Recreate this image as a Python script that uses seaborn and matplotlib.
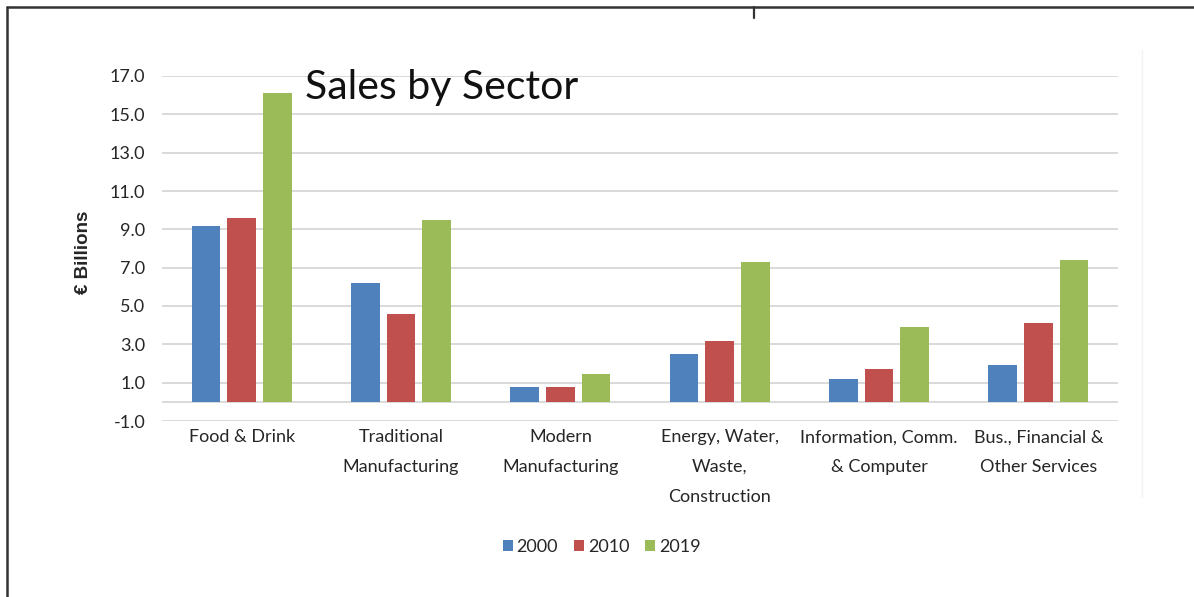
import matplotlib
matplotlib.use("Agg")
import matplotlib.pyplot as plt
from matplotlib.lines import Line2D
from matplotlib.patches import Patch
import seaborn as sns
import pandas as pd

# ---- data ----
sectors = ["Food & Drink", "Traditional\nManufacturing", "Modern\nManufacturing",
           "Energy, Water,\nWaste,\nConstruction", "Information, Comm.\n& Computer",
           "Bus., Financial &\nOther Services"]
years = ["2000", "2010", "2019"]
sales_2000 = [9.2, 6.2, 0.8, 2.5, 1.2, 1.9]
sales_2010 = [9.6, 4.6, 0.8, 3.2, 1.7, 4.1]
sales_2019 = [16.1, 9.5, 1.45, 7.3, 3.9, 7.4]
yticks = [-1.0, 1.0, 3.0, 5.0, 7.0, 9.0, 11.0, 13.0, 15.0, 17.0]
colors = ["#4F81BD", "#C0504D", "#9BBB59"]

rows = []
for yr, vals in zip(years, [sales_2000, sales_2010, sales_2019]):
    for s, v in zip(sectors, vals):
        rows.append({"Sector": s, "Year": yr, "Sales": v})
df = pd.DataFrame(rows)

sns.set_theme(style="white")
plt.rcParams["font.family"] = ["Lato", "DejaVu Sans"]

fig = plt.figure(figsize=(11.94, 5.97), dpi=100)
ax = fig.add_axes([162/1194, 1-421/597, (1118-162)/1194, (421-76)/597])

sns.barplot(data=df, x="Sector", y="Sales", hue="Year", order=sectors,
            hue_order=years, palette=colors, width=0.672, gap=0.2,
            linewidth=0, saturation=1, errorbar=None, ax=ax, legend=False, zorder=3)

ax.set_xlim(-0.5, len(sectors) - 0.5)
ax.set_ylim(-1, 17)
ax.set_yticks(yticks)
ax.set_yticklabels([f"{t:.1f}" for t in yticks], fontsize=13, color="#262626")
ax.yaxis.grid(True, color="#d9d9d9", linewidth=1.4, zorder=0)
ax.axhline(0, color="#d9d9d9", linewidth=1.4, zorder=1)
ax.set_axisbelow(True)
for sp in ax.spines.values():
    sp.set_visible(False)
ax.tick_params(axis="y", length=0, pad=12)
ax.tick_params(axis="x", length=0, pad=6)
for lbl in ax.get_xticklabels():
    lbl.set_fontsize(13)
    lbl.set_color("#262626")
    lbl.set_linespacing(2.05)
    lbl.set_va("top")
ax.set_xlabel("")
ax.set_ylabel("€ Billions", fontsize=13.5, fontweight="bold",
              family=["Liberation Sans", "DejaVu Sans"], color="#262626")
ax.yaxis.set_label_coords(-0.073, 0.49)

fig.text(305/1194, 1-88/597, "Sales by Sector", fontsize=29.5, color="#111111",
         ha="left", va="center")

handles = [Patch(facecolor=c, edgecolor="none") for c in colors]
fig.legend(handles, years, loc="center", bbox_to_anchor=(0.504, 1-547/597),
           ncol=3, frameon=False, fontsize=13, handlelength=0.55, handleheight=0.55,
           handletextpad=0.2, columnspacing=0.9)

# frame lines of the screenshot
fig.add_artist(Line2D([7/1194, 7/1194], [0, 1-7/597], color="#333333", linewidth=1.8))
fig.add_artist(Line2D([7/1194, 1], [1-7/597, 1-7/597], color="#333333", linewidth=1.8))
fig.add_artist(Line2D([754/1194, 754/1194], [1-7/597, 1-18/597], color="#333333", linewidth=1.6))
fig.add_artist(Line2D([1142/1194, 1142/1194], [1-497/597, 1-50/597], color="#f2f2f2", linewidth=1))

fig.savefig("out.png", dpi=100)
